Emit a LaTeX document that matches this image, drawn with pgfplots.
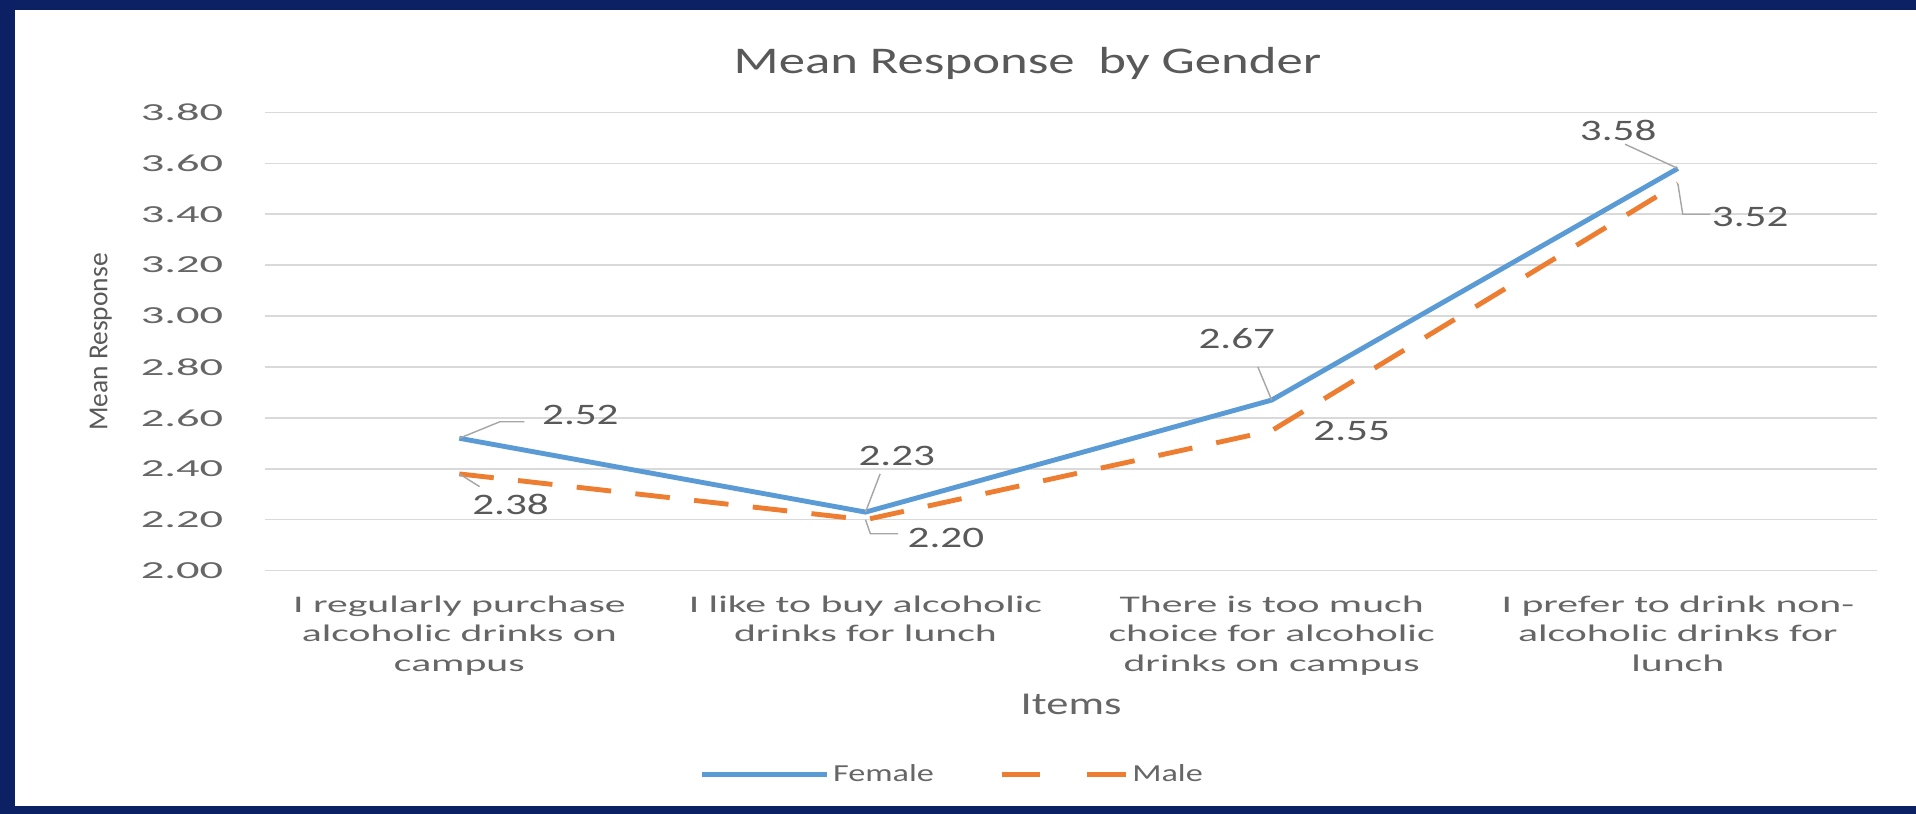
\documentclass[border=0pt]{standalone}
\usepackage{pgfplots}
\pgfplotsset{compat=1.18}
\usepackage{fontspec}
\setmainfont[FakeStretch=1.4]{Carlito}
\newfontfamily\plainfont{Carlito}
\newfontfamily\catfont[FakeStretch=1.75]{Carlito}
\newfontfamily\tickfont[FakeStretch=1.9]{Carlito}
\newfontfamily\dlfont[FakeStretch=1.45]{Carlito}
\definecolor{navy}{HTML}{0C2163}
\definecolor{fblue}{HTML}{5B9BD5}
\definecolor{morange}{HTML}{ED7D31}
\definecolor{txt}{HTML}{595959}
\definecolor{txtl}{HTML}{666666}
\definecolor{gridc}{HTML}{D9D9D9}
\definecolor{leader}{HTML}{A6A6A6}
\begin{document}
\begin{tikzpicture}[x=1pt,y=1pt]
\fill[navy] (0,0) rectangle (940.8,399.6);
\fill[white] (7.2,3.6) rectangle (940.8,394.8);
\begin{axis}[
  at={(130.2pt,119.4pt)}, anchor=south west,
  scale only axis, width=791.4pt, height=225pt,
  xmin=-0.478, xmax=3.49, ymin=2, ymax=3.8,
  clip=false,
  axis line style={draw=none},
  tick style={draw=none},
  ymajorgrids, grid style={gridc, line width=0.75pt},
  xtick={0,1,2,3},
  xticklabels={{I regularly purchase\\alcoholic drinks on\\campus},
               {I like to buy alcoholic\\drinks for lunch},
               {There is too much\\choice for alcoholic\\drinks on campus},
               {I prefer to drink non-\\alcoholic drinks for\\lunch}},
  xticklabel style={align=center, anchor=north, inner sep=0pt, yshift=-12pt,
     font=\catfont\fontsize{11.7}{14.7}\selectfont, text=txtl},
  ytick={2.0,2.2,2.4,2.6,2.8,3.0,3.2,3.4,3.6,3.8},
  yticklabel style={/pgf/number format/fixed, /pgf/number format/fixed zerofill,
     /pgf/number format/precision=2, /pgf/number format/assume math mode=true,
     anchor=east, inner sep=0pt, xshift=-20.4pt,
     font=\tickfont\fontsize{12}{14}\selectfont, text=txtl},
  title={Mean Response \ by Gender},
  title style={at={(0.473,1.08)}, anchor=center, font=\fontsize{18.5}{22}\selectfont, text=txt},
  xlabel={Items},
  xlabel style={at={(0.500,-0.291)}, anchor=center, font=\fontsize{15.6}{18}\selectfont, text=txtl},
  ylabel={\plainfont Mean Response},
  ylabel style={at={(-0.102,0.4987)}, anchor=center, font=\fontsize{13.5}{15}\selectfont, text=txt},
  legend style={at={(0.427,-0.445)}, anchor=center, draw=none, fill=none,
     legend columns=2, font=\fontsize{12}{14}\selectfont, text=txtl,
     /tikz/every even column/.append style={column sep=30pt}},
]
\addplot[fblue, line width=2.4pt,
  legend image code/.code={\draw[fblue, line width=2.4pt] (0pt,0pt) -- (61pt,0pt);}]
  coordinates {(0,2.52) (1,2.23) (2,2.67) (3,3.58)};
\addlegendentry{Female}
\addplot[morange, line width=2.4pt, dash pattern=on 17pt off 12pt,
  legend image code/.code={\draw[morange, line width=2.4pt, dash pattern=on 19pt off 23pt] (0pt,0pt) -- (61pt,0pt);}]
  coordinates {(0,2.38) (1,2.20) (2,2.55) (3,3.52)};
\addlegendentry{Male}
% leader lines
\draw[leader, line width=0.7pt] (axis cs:0,2.52) -- (axis cs:0.10,2.585) -- (axis cs:0.16,2.585);
\draw[leader, line width=0.7pt] (axis cs:0,2.38) -- (axis cs:0.05,2.33);
\draw[leader, line width=0.7pt] (axis cs:1,2.23) -- (axis cs:1.036,2.38);
\draw[leader, line width=0.7pt] (axis cs:1,2.20) -- (axis cs:1.012,2.145) -- (axis cs:1.08,2.145);
\draw[leader, line width=0.7pt] (axis cs:2,2.67) -- (axis cs:1.966,2.80);
\draw[leader, line width=0.7pt] (axis cs:3,3.58) -- (axis cs:2.87,3.675);
\draw[leader, line width=0.7pt] (axis cs:3,3.52) -- (axis cs:3.012,3.40) -- (axis cs:3.08,3.40);
% data labels
\tikzset{dl/.style={font=\dlfont\fontsize{14.6}{17}\selectfont, text=txt, anchor=center}}
\node[dl] at (axis cs:0.298,2.61) {2.52};
\node[dl] at (axis cs:0.126,2.26) {2.38};
\node[dl] at (axis cs:1.077,2.45) {2.23};
\node[dl] at (axis cs:1.198,2.13) {2.20};
\node[dl] at (axis cs:1.914,2.91) {2.67};
\node[dl] at (axis cs:2.197,2.55) {2.55};
\node[dl] at (axis cs:2.853,3.73) {3.58};
\node[dl] at (axis cs:3.178,3.39) {3.52};
\end{axis}
\pgfresetboundingbox
\useasboundingbox (0,0) rectangle (940.8,399.6);
\end{tikzpicture}
\end{document}
